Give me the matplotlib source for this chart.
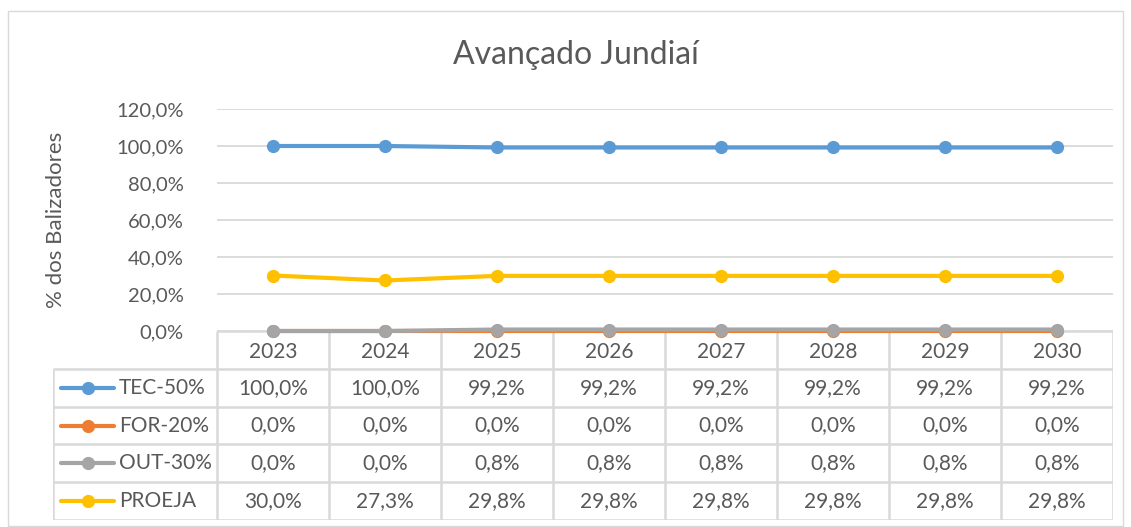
import matplotlib.pyplot as plt
from matplotlib.ticker import FuncFormatter

plt.rcParams['font.family'] = ['Lato', 'DejaVu Sans']

# Data
years = ['2023', '2024', '2025', '2026', '2027', '2028', '2029', '2030']
series_names = ['TEC-50%', 'FOR-20%', 'OUT-30%', 'PROEJA']
tec = [100.0, 100.0, 99.2, 99.2, 99.2, 99.2, 99.2, 99.2]
forr = [0.0, 0.0, 0.0, 0.0, 0.0, 0.0, 0.0, 0.0]
out = [0.0, 0.0, 0.8, 0.8, 0.8, 0.8, 0.8, 0.8]
proeja = [30.0, 27.3, 29.8, 29.8, 29.8, 29.8, 29.8, 29.8]
colors = ['#5b9bd5', '#ed7d31', '#a5a5a5', '#ffc000']
yticks = [0, 20, 40, 60, 80, 100, 120]

W, H = 1131, 527
txt = '#595959'
grid = '#d9d9d9'

def fmt(v):
    return f'{v:.1f}'.replace('.', ',') + '%'

fig = plt.figure(figsize=(W / 100, H / 100), dpi=100)

# main plot area (pixel layout)
left, right, top, bottom = 217, 1113, 109, 331
ax = fig.add_axes([left / W, 1 - bottom / H, (right - left) / W, (bottom - top) / H])
x = list(range(len(years)))
for vals, c in zip([tec, forr, out, proeja], colors):
    ax.plot(x, vals, color=c, lw=3, marker='o', ms=8.5, solid_capstyle='round', zorder=3, clip_on=False)
ax.set_xlim(-0.5, len(years) - 0.5)
ax.set_ylim(0, 120)
ax.set_yticks(yticks)
ax.yaxis.set_major_formatter(FuncFormatter(lambda v, p: fmt(v)))
ax.tick_params(axis='y', length=0, labelsize=14.5, labelcolor=txt, pad=24)
ax.set_xticks([])
ax.grid(axis='y', color=grid, lw=1.3)
for s in ax.spines.values():
    s.set_visible(False)
ax.set_ylabel('% dos Balizadores', fontsize=16, color=txt, labelpad=36)
ax.set_facecolor('none')

# data table below
tl, tr, tt, tb = 53, 1113, 331, 520
tax = fig.add_axes([tl / W, 1 - tb / H, (tr - tl) / W, (tb - tt) / H])
tax.set_xlim(tl, tr)
tax.set_ylim(tb, tt)
tax.axis('off')
tax.set_zorder(-1)
colw = (right - left) / len(years)
rowh = (tb - tt) / 5
lc = dict(color=grid, lw=1.8, solid_capstyle='butt')
# vertical lines
tax.plot([left, left], [tt, tb], **lc)
for i in range(1, len(years) + 1):
    tax.plot([left + i * colw] * 2, [tt, tb], **lc)
tax.plot([tl, tl], [tt + rowh, tb], **lc)
# horizontal lines
tax.plot([left, right], [tt, tt], **lc)
for r in range(1, 6):
    tax.plot([tl, right], [tt + r * rowh] * 2, **lc)
fs = 15
for i, yr in enumerate(years):
    tax.text(left + (i + 0.5) * colw, tt + 0.5 * rowh + 2, yr, ha='center', va='center', fontsize=fs, color=txt)
for r, (name, vals, c) in enumerate(zip(series_names, [tec, forr, out, proeja], colors)):
    yc = tt + (r + 1.5) * rowh
    tax.plot([tl + 8, tl + 61], [yc, yc], color=c, lw=3, solid_capstyle='round')
    tax.plot([tl + 34.5], [yc], color=c, marker='o', ms=8.5)
    tax.text(tl + 66, yc, name, ha='left', va='center', fontsize=fs, color=txt)
    for i, v in enumerate(vals):
        tax.text(left + (i + 0.5) * colw, yc, fmt(v), ha='center', va='center', fontsize=fs, color=txt)

fig.text(576 / W, 1 - 55 / H, 'Avançado Jundiaí', ha='center', va='center', fontsize=23, color=txt)
fig.patches.append(plt.Rectangle((8 / W, 0.002), 1 - 16 / W, 1 - 12 / H, transform=fig.transFigure,
                                 fill=False, edgecolor=grid, lw=1))

fig.savefig('out.png', dpi=100)
